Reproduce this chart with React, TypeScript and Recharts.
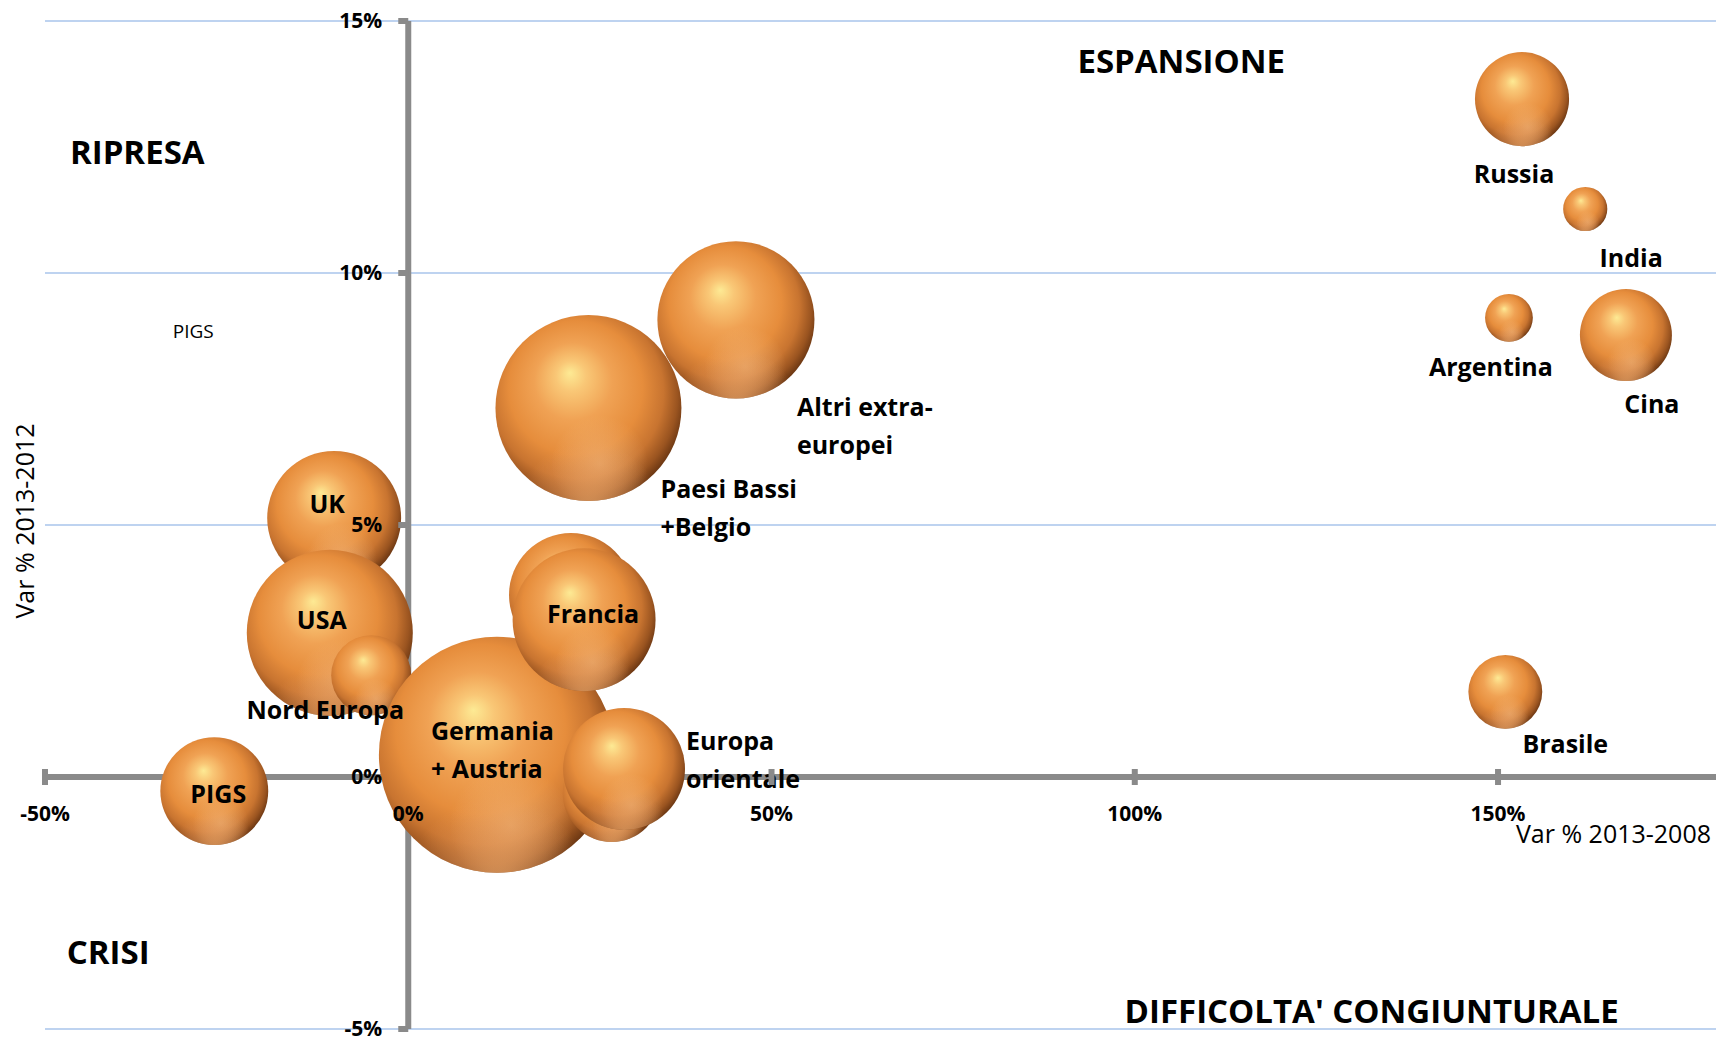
import React from 'react';
import {
  ScatterChart,
  Scatter,
  XAxis,
  YAxis,
  ZAxis,
  CartesianGrid,
  ReferenceDot,
} from 'recharts';

// drawing order matters: later bubbles sit on top of earlier ones
const markets = [
  'UK',
  'USA',
  'Nord Europa',
  'Germania\n+ Austria',
  '',
  'Francia',
  '',
  'Europa\norientale',
  'Altri extra-\neuropei',
  'Paesi Bassi\n+Belgio',
  'PIGS',
  'Russia',
  'India',
  'Argentina',
  'Cina',
  'Brasile',
];
// Var % 2013-2008
const varLong = [-10.2, -10.8, -5.1, 12.2, 22.4, 24.2, 28.0, 29.7, 45.1, 24.8, -26.7, 153.3, 162.0, 151.5, 167.6, 151.0];
// Var % 2013-2012
const varShort = [5.14, 2.86, 2.02, 0.44, 3.61, 3.12, -0.32, 0.16, 9.07, 7.32, -0.28, 13.45, 11.27, 9.11, 8.77, 1.69];
// bubble weight
const weight = [32.2, 49.5, 11.5, 100, 27.6, 36.7, 17.2, 26.7, 44.3, 62.1, 20.9, 15.9, 3.5, 4.1, 15.2, 9.8];

const xTicks = [-50, 0, 50, 100, 150];
const yTicks = [-5, 0, 5, 10, 15];
const X_DOMAIN: [number, number] = [-50, 180];
const Y_DOMAIN: [number, number] = [-5, 15];

const points = markets.map((name, i) => ({ name, x: varLong[i], y: varShort[i], z: weight[i] }));

const W = 1719;
const H = 1040;
const MARGIN = { top: 21, right: 3, bottom: 0, left: 0 };
const Y_AXIS_W = 45;
const X_AXIS_H = 11;
const PLOT_L = MARGIN.left + Y_AXIS_W;
const PLOT_W = W - PLOT_L - MARGIN.right;
const PLOT_T = MARGIN.top;
const PLOT_H = H - MARGIN.top - MARGIN.bottom - X_AXIS_H;
const X0 = PLOT_L + ((0 - X_DOMAIN[0]) / (X_DOMAIN[1] - X_DOMAIN[0])) * PLOT_W;
const Y0 = PLOT_T + ((Y_DOMAIN[1] - 0) / (Y_DOMAIN[1] - Y_DOMAIN[0])) * PLOT_H;
const MAX_R = 118;

const FONT = "'Open Sans', sans-serif";
const AXIS_GREY = '#8a8a8a';
const GRID_BLUE = '#a9c4eb';
const LINE_H = 38;

// label offsets from bubble centre (px)
const labelPlacement: Record<string, { dx: number; dy: number; anchor: 'start' | 'middle' }> = {
  UK: { dx: -7, dy: -15, anchor: 'middle' },
  USA: { dx: -8, dy: -14, anchor: 'middle' },
  'Nord Europa': { dx: -46, dy: 34, anchor: 'middle' },
  'Germania\n+ Austria': { dx: -66, dy: -25, anchor: 'start' },
  Francia: { dx: 9, dy: -7, anchor: 'middle' },
  'Europa\norientale': { dx: 62, dy: -29, anchor: 'start' },
  'Altri extra-\neuropei': { dx: 61, dy: 86, anchor: 'start' },
  'Paesi Bassi\n+Belgio': { dx: 72, dy: 80, anchor: 'start' },
  PIGS: { dx: 4, dy: 2, anchor: 'middle' },
  Russia: { dx: -8, dy: 74, anchor: 'middle' },
  India: { dx: 46, dy: 48, anchor: 'middle' },
  Argentina: { dx: -18, dy: 48, anchor: 'middle' },
  Cina: { dx: 26, dy: 68, anchor: 'middle' },
  Brasile: { dx: 60, dy: 51, anchor: 'middle' },
};

const Sphere = (props: any) => {
  const { cx, cy, width, size } = props;
  const r = width ? width / 2 : Math.sqrt(size / Math.PI);
  return (
    <g>
      <circle cx={cx} cy={cy} r={r} fill="url(#sphereBody)" />
      <circle cx={cx} cy={cy} r={r} fill="url(#sphereGlow)" />
      <circle cx={cx} cy={cy} r={r} fill="url(#sphereRim)" />
    </g>
  );
};

const BubbleLabel = (props: any) => {
  const { cx, cy, payload } = props;
  const spec = labelPlacement[payload.name];
  if (!spec) return <g />;
  return (
    <text
      fontFamily={FONT}
      fontWeight={700}
      fontSize={25}
      fill="#000"
      textAnchor={spec.anchor}
      dominantBaseline="central"
    >
      {payload.name.split('\n').map((line: string, i: number) => (
        <tspan key={i} x={cx + spec.dx} y={cy + spec.dy + i * LINE_H}>
          {line}
        </tspan>
      ))}
    </text>
  );
};

const XTick = (props: any) => {
  const { x, payload } = props;
  return (
    <g>
      {payload.value !== 0 && <rect x={x - 3} y={Y0 - 8} width={6} height={16} fill={AXIS_GREY} />}
      <text x={x} y={Y0 + 36} textAnchor="middle" dominantBaseline="central" fontFamily={FONT} fontWeight={700} fontSize={21} fill="#000">
        {`${payload.value}%`}
      </text>
    </g>
  );
};

const YTick = (props: any) => {
  const { y, payload } = props;
  return (
    <g>
      {payload.value !== 0 && <rect x={X0 - 10} y={y - 3} width={10} height={6} fill={AXIS_GREY} />}
      <text x={X0 - 26} y={y - 1} textAnchor="end" dominantBaseline="central" fontFamily={FONT} fontWeight={700} fontSize={21} fill="#000">
        {`${payload.value}%`}
      </text>
    </g>
  );
};

const freeText = (value: string, size: number, weightVal: number, anchor: 'start' | 'middle' | 'end') => (p: any) => {
  const vb = p.viewBox || {};
  return (
    <text x={vb.x} y={vb.y} textAnchor={anchor} dominantBaseline="central" fontFamily={FONT} fontWeight={weightVal} fontSize={size} fill="#000">
      {value}
    </text>
  );
};

const quadrants = [
  { text: 'ESPANSIONE', x: 106.4, y: 14.21 },
  { text: 'RIPRESA', x: -37.3, y: 12.42 },
  { text: 'CRISI', x: -41.3, y: -3.47 },
  { text: "DIFFICOLTA' CONGIUNTURALE", x: 132.6, y: -4.64 },
];

export default function App() {
  return (
    <div style={{ position: 'absolute', left: 0, top: 0, width: W, height: H, background: '#fff' }}>
      <ScatterChart width={W} height={H} margin={MARGIN}>
        <defs>
          <radialGradient id="sphereBody" cx="45%" cy="44%" r="58%" fx="40%" fy="31%">
            <stop offset="0%" stopColor="#fdea94" />
            <stop offset="14%" stopColor="#f9c776" />
            <stop offset="36%" stopColor="#f0a254" />
            <stop offset="62%" stopColor="#e68d3c" />
            <stop offset="80%" stopColor="#c87430" />
            <stop offset="92%" stopColor="#9a5420" />
            <stop offset="100%" stopColor="#6a3612" />
          </radialGradient>
          <radialGradient id="sphereGlow" cx="56%" cy="80%" r="26%">
            <stop offset="0%" stopColor="#f6c48e" stopOpacity={0.5} />
            <stop offset="100%" stopColor="#f6c48e" stopOpacity={0} />
          </radialGradient>
          <radialGradient id="sphereRim" cx="50%" cy="108%" r="40%">
            <stop offset="0%" stopColor="#f0aa6a" stopOpacity={0.85} />
            <stop offset="60%" stopColor="#eba063" stopOpacity={0.35} />
            <stop offset="100%" stopColor="#eba063" stopOpacity={0} />
          </radialGradient>
        </defs>
        <CartesianGrid horizontal vertical={false} stroke={GRID_BLUE} strokeWidth={1.5} />
        {/* the two axes cross at 0/0 and sit under the bubbles */}
        <CartesianGrid horizontal vertical stroke={AXIS_GREY} strokeWidth={6} horizontalPoints={[Y0]} verticalPoints={[X0]} />
        <XAxis
          type="number"
          dataKey="x"
          domain={X_DOMAIN}
          ticks={xTicks}
          interval={0}
          allowDataOverflow
          height={X_AXIS_H}
          axisLine={false}
          tickLine={false}
          tick={XTick}
          label={() => (
            <text x={PLOT_L + PLOT_W - 5} y={Y0 + 56} textAnchor="end" dominantBaseline="central" fontFamily={FONT} fontSize={25} fill="#000">
              Var % 2013-2008
            </text>
          )}
        />
        <YAxis
          type="number"
          dataKey="y"
          domain={Y_DOMAIN}
          ticks={yTicks}
          interval={0}
          allowDataOverflow
          width={Y_AXIS_W}
          axisLine={false}
          tickLine={false}
          tick={YTick}
          label={() => (
            <text
              x={24}
              y={521}
              transform="rotate(-90, 24, 521)"
              textAnchor="middle"
              dominantBaseline="central"
              fontFamily={FONT}
              fontSize={25}
              fill="#000"
            >
              Var % 2013-2012
            </text>
          )}
        />
        <ZAxis type="number" dataKey="z" domain={[0, 100]} range={[0, Math.PI * MAX_R * MAX_R]} />
        {quadrants.map((q) => (
          <ReferenceDot key={q.text} x={q.x} y={q.y} r={0} stroke="none" fill="none" label={freeText(q.text, 33, 700, 'middle')} />
        ))}
        <ReferenceDot x={-29.6} y={8.85} r={0} stroke="none" fill="none" label={freeText('PIGS', 19, 400, 'middle')} />
        <Scatter data={points} shape={Sphere} isAnimationActive={false} />
        <Scatter data={points} shape={BubbleLabel} isAnimationActive={false} />
      </ScatterChart>
    </div>
  );
}
